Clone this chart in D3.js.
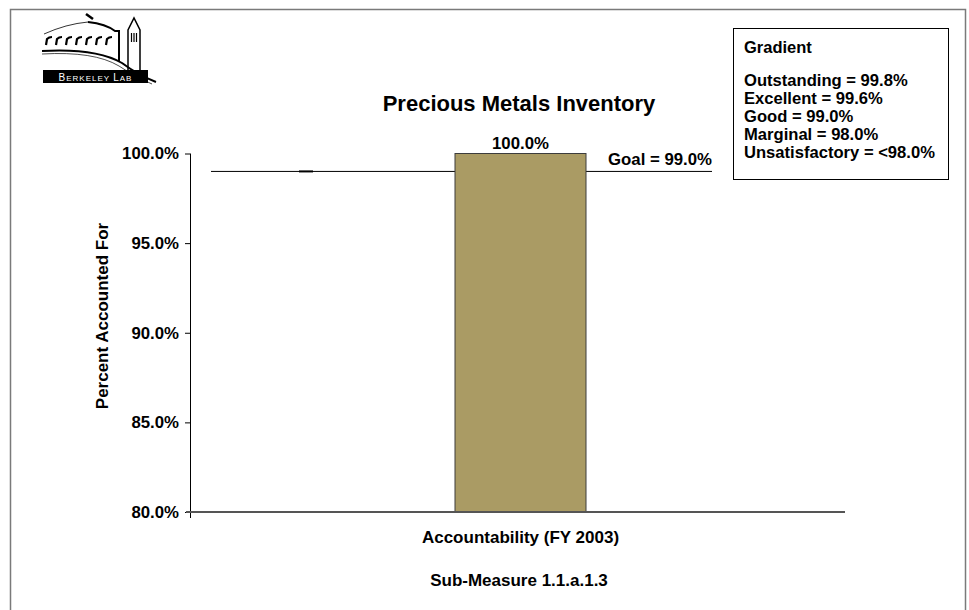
<!DOCTYPE html>
<html>
<head>
<meta charset="utf-8">
<script src="https://cdn.jsdelivr.net/npm/d3@7"></script>
<style>
  html, body { margin: 0; padding: 0; background: #fff; }
  svg { display: block; }
  text { font-family: "Liberation Sans", Arial, Helvetica, sans-serif; font-weight: bold; }
</style>
</head>
<body>
<svg id="chart" width="969" height="610"></svg>
<script>
// ---- data ----
const categories = ["Accountability (FY 2003)"];
const percentAccounted = [1.000];
const goalValue = 0.99;
const yTicks = [0.80, 0.85, 0.90, 0.95, 1.00];
const gradientTitle = "Gradient";
const gradientLines = [
  "Outstanding = 99.8%",
  "Excellent = 99.6%",
  "Good = 99.0%",
  "Marginal = 98.0%",
  "Unsatisfactory = <98.0%"
];
const chartTitle = "Precious Metals Inventory";
const yAxisTitle = "Percent Accounted For";
const footnote = "Sub-Measure 1.1.a.1.3";

// ---- layout ----
const svg = d3.select("#chart");
const plot = { left: 190, right: 845, top: 153.5, bottom: 512 };

const y = d3.scaleLinear().domain([0.80, 1.00]).range([plot.bottom, plot.top]);
const x = d3.scaleBand().domain(categories)
  .range([plot.left + 3, plot.right + 3])
  .paddingInner(0).paddingOuter(2);

const pct = d3.format(".1%");

// outer frame
svg.append("rect")
  .attr("x", 10.5).attr("y", 9.5).attr("width", 955).attr("height", 700)
  .attr("fill", "none").attr("stroke", "#7a7a7a").attr("stroke-width", 1.5);

// goal line
const goalX0 = 211, goalX1 = 712;
svg.append("line")
  .attr("x1", goalX0).attr("x2", goalX1)
  .attr("y1", y(goalValue)).attr("y2", y(goalValue))
  .attr("stroke", "#000").attr("stroke-width", 1);
svg.append("line")
  .attr("x1", 299).attr("x2", 313)
  .attr("y1", y(goalValue)).attr("y2", y(goalValue))
  .attr("stroke", "#000").attr("stroke-width", 2);

// bars
svg.selectAll("rect.bar")
  .data(categories)
  .enter().append("rect")
  .attr("class", "bar")
  .attr("x", d => x(d))
  .attr("width", x.bandwidth())
  .attr("y", (d, i) => y(percentAccounted[i]))
  .attr("height", (d, i) => y(0.80) - y(percentAccounted[i]))
  .attr("fill", "#aa9b64")
  .attr("stroke", "#3c3c3c").attr("stroke-width", 1);

// value labels
svg.selectAll("text.val")
  .data(categories)
  .enter().append("text")
  .attr("class", "val")
  .attr("x", d => x(d) + x.bandwidth() / 2)
  .attr("y", (d, i) => y(percentAccounted[i]) - 5)
  .attr("text-anchor", "middle")
  .style("font-size", "16.8px")
  .text((d, i) => pct(percentAccounted[i]));

svg.append("text")
  .attr("x", 608).attr("y", y(goalValue) - 6)
  .style("font-size", "16.8px")
  .text("Goal = " + pct(goalValue));

// y axis
const yAxis = d3.axisLeft(y).tickValues(yTicks).tickFormat(pct)
  .tickSize(5).tickPadding(6).tickSizeOuter(0);
const gy = svg.append("g").attr("transform", `translate(${plot.left},0)`).call(yAxis);
gy.select(".domain").remove();
gy.selectAll(".tick line").attr("stroke", "#000");
gy.selectAll(".tick text")
  .style("font-size", "16.8px")
  .style("font-family", "Liberation Sans, Arial, sans-serif")
  .style("font-weight", "bold")
  .style("fill", "#000");
svg.append("line")
  .attr("x1", plot.left + 0.5).attr("x2", plot.left + 0.5)
  .attr("y1", plot.top).attr("y2", plot.bottom + 6)
  .attr("stroke", "#000").attr("stroke-width", 1);

// x axis baseline
svg.append("line")
  .attr("x1", plot.left - 4).attr("x2", plot.right)
  .attr("y1", plot.bottom).attr("y2", plot.bottom)
  .attr("stroke", "#555").attr("stroke-width", 2);

// category labels
svg.selectAll("text.cat")
  .data(categories)
  .enter().append("text")
  .attr("class", "cat")
  .attr("x", d => x(d) + x.bandwidth() / 2)
  .attr("y", 543)
  .attr("text-anchor", "middle")
  .style("font-size", "17px")
  .text(d => d);

// titles
svg.append("text")
  .attr("x", 519).attr("y", 111)
  .attr("text-anchor", "middle")
  .style("font-size", "22px")
  .text(chartTitle);

svg.append("text")
  .attr("transform", "translate(107.5,316) rotate(-90)")
  .attr("text-anchor", "middle")
  .style("font-size", "17px")
  .text(yAxisTitle);

svg.append("text")
  .attr("x", 519).attr("y", 586)
  .attr("text-anchor", "middle")
  .style("font-size", "17px")
  .text(footnote);

// gradient legend
const lg = svg.append("g");
lg.append("rect")
  .attr("x", 733.5).attr("y", 28.5).attr("width", 215).attr("height", 151)
  .attr("fill", "#fff").attr("stroke", "#000").attr("stroke-width", 1);
lg.append("text").attr("x", 744).attr("y", 53).style("font-size", "16.5px").text(gradientTitle);
lg.selectAll("text.gl")
  .data(gradientLines)
  .enter().append("text")
  .attr("class", "gl")
  .attr("x", 744)
  .attr("y", (d, i) => 86 + i * 18)
  .style("font-size", "16.6px")
  .text(d => d);

// Berkeley Lab logo: dome building, campanile, swoosh and name plate
const logo = svg.append("g").attr("fill", "none").attr("stroke", "#000");
logo.append("path").attr("d", "M86,14 L93,19").attr("stroke-width", 2.5);
logo.append("path").attr("d", "M44,34 Q66,24 88,22").attr("stroke-width", 0.8);
logo.append("path").attr("d", "M88,22 Q106,24 115,31 L119,31 L119,62").attr("stroke-width", 2);
logo.append("path").attr("d", "M42,51 Q96,48 122,63 Q138,75 156,82").attr("stroke-width", 2);
logo.append("path").attr("d", "M42,54 Q94,51 119,66 Q134,77 152,84").attr("stroke-width", 0.7);
const win = d3.range(7);
logo.selectAll("path.win")
  .data(win)
  .enter().append("path")
  .attr("class", "win")
  .attr("d", d => {
    const x0 = 46 + d * 10;
    return `M${x0},45 L${x0 + 1},39 Q${x0 + 3},37 ${x0 + 6},37`;
  })
  .attr("stroke-width", 2.2);
logo.append("path").attr("d", "M128,70 L128,30 L134,18 L140,30 L140,74").attr("stroke-width", 1.5);
logo.append("path").attr("d", "M131.5,33 L131.5,42 M134,33 L134,42 M136.5,33 L136.5,42").attr("stroke-width", 1.2);
svg.append("rect").attr("x", 43).attr("y", 70).attr("width", 105).attr("height", 13).attr("fill", "#000");
const plate = svg.append("text")
  .attr("x", 95.5).attr("y", 80.5)
  .attr("text-anchor", "middle")
  .style("font-weight", "normal")
  .style("letter-spacing", "1px")
  .style("fill", "#fff");
[["B", 10], ["ERKELEY ", 8], ["L", 10], ["AB", 8]].forEach(([t, s]) => {
  plate.append("tspan").style("font-size", s + "px").text(t);
});
</script>
</body>
</html>
